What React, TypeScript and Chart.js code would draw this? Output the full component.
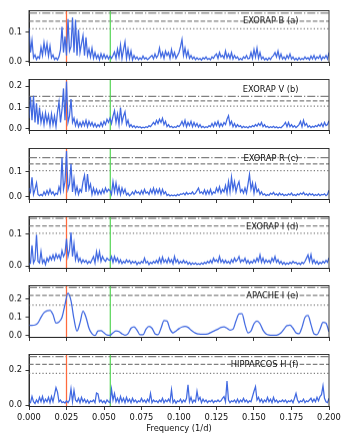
import React, { useEffect, useRef } from "react";
import { Chart, registerables } from "chart.js";
Chart.register(...registerables);

// ---------- DATA ----------
const freqMin = 0;
const freqMax = 0.2;
const freqTicks = [0, 0.025, 0.05, 0.075, 0.1, 0.125, 0.15, 0.175, 0.2];
const panelNames = ["EXORAP B (a)", "EXORAP V (b)", "EXORAP R (c)", "EXORAP I (d)", "APACHE I (e)", "HIPPARCOS H (f)"];
const markerFreqs = [0.025, 0.0542];

const powerB = [
  0.112, 0.03, 0.072, 0.012, 0.022, 0.006, 0.016, 0.01, 0.048, 0.02,
  0.064, 0.028, 0.06, 0.018, 0.052, 0.012, 0.022, 0.006, 0.012, 0.005,
  0.016, 0.04, 0.118, 0.03, 0.085, 0.02, 0.145, 0.035, 0.05, 0.15,
  0.03, 0.142, 0.02, 0.108, 0.03, 0.06, 0.088, 0.02, 0.082, 0.02,
  0.042, 0.015, 0.045, 0.01, 0.03, 0.01, 0.022, 0.005, 0.026, 0.01,
  0.024, 0.01, 0.02, 0.008, 0.018, 0.01, 0.02, 0.032, 0.01, 0.042,
  0.015, 0.056, 0.01, 0.04, 0.066, 0.01, 0.042, 0.01, 0.035, 0.005,
  0.02, 0.008, 0.015, 0.005, 0.012, 0.006, 0.018, 0.008, 0.012, 0.005,
  0.01, 0.015, 0.02, 0.008, 0.025, 0.012, 0.02, 0.045, 0.015, 0.03,
  0.01, 0.035, 0.02, 0.03, 0.01, 0.04, 0.015, 0.03, 0.01, 0.02,
  0.03, 0.05, 0.075, 0.02, 0.045, 0.015, 0.035, 0.01, 0.02, 0.008,
  0.015, 0.005, 0.012, 0.006, 0.01, 0.004, 0.012, 0.008, 0.015, 0.006,
  0.01, 0.005, 0.015, 0.01, 0.02, 0.025, 0.01, 0.03, 0.015, 0.02,
  0.01, 0.035, 0.012, 0.025, 0.01, 0.03, 0.008, 0.02, 0.01, 0.015,
  0.005, 0.01, 0.005, 0.015, 0.01, 0.02, 0.008, 0.01, 0.03, 0.01,
  0.04, 0.015, 0.045, 0.01, 0.03, 0.008, 0.015, 0.005, 0.01, 0.004,
  0.012, 0.006, 0.015, 0.02, 0.03, 0.015, 0.035, 0.01, 0.025, 0.008,
  0.015, 0.006, 0.02, 0.01, 0.025, 0.008, 0.015, 0.005, 0.01, 0.004,
  0.012, 0.005, 0.01, 0.006, 0.015, 0.008, 0.012, 0.005, 0.018, 0.008,
  0.02, 0.006, 0.015, 0.01, 0.02, 0.005, 0.015, 0.01, 0.02, 0.008, 0.03,
];

const powerV = [
  0.05, 0.15, 0.04, 0.155, 0.03, 0.12, 0.02, 0.1, 0.03, 0.07,
  0.02, 0.075, 0.03, 0.065, 0.015, 0.07, 0.02, 0.06, 0.01, 0.08,
  0.127, 0.03, 0.09, 0.19, 0.04, 0.222, 0.03, 0.06, 0.14, 0.03,
  0.05, 0.015, 0.04, 0.01, 0.03, 0.012, 0.035, 0.015, 0.04, 0.01,
  0.035, 0.015, 0.03, 0.01, 0.025, 0.008, 0.02, 0.01, 0.03, 0.012,
  0.035, 0.02, 0.045, 0.03, 0.05, 0.025, 0.06, 0.085, 0.03, 0.07,
  0.02, 0.1, 0.03, 0.06, 0.08, 0.02, 0.04, 0.01, 0.02, 0.008,
  0.015, 0.005, 0.012, 0.006, 0.01, 0.004, 0.008, 0.005, 0.01, 0.006,
  0.015, 0.01, 0.02, 0.03, 0.02, 0.04, 0.025, 0.045, 0.03, 0.05,
  0.02, 0.035, 0.01, 0.02, 0.008, 0.012, 0.005, 0.01, 0.006, 0.015,
  0.01, 0.02, 0.035, 0.015, 0.04, 0.01, 0.03, 0.015, 0.035, 0.01,
  0.03, 0.012, 0.025, 0.008, 0.02, 0.006, 0.012, 0.005, 0.01, 0.006,
  0.015, 0.01, 0.025, 0.01, 0.03, 0.015, 0.035, 0.01, 0.025, 0.012,
  0.03, 0.02, 0.045, 0.062, 0.02, 0.035, 0.01, 0.025, 0.008, 0.02,
  0.01, 0.015, 0.005, 0.012, 0.006, 0.01, 0.004, 0.012, 0.008, 0.015,
  0.01, 0.02, 0.012, 0.025, 0.015, 0.03, 0.01, 0.02, 0.008, 0.012,
  0.005, 0.01, 0.006, 0.012, 0.005, 0.01, 0.004, 0.008, 0.005, 0.012,
  0.02, 0.03, 0.01, 0.03, 0.01, 0.02, 0.008, 0.015, 0.006, 0.012,
  0.02, 0.035, 0.01, 0.04, 0.015, 0.025, 0.008, 0.015, 0.006, 0.012,
  0.008, 0.015, 0.01, 0.02, 0.012, 0.025, 0.01, 0.03, 0.015, 0.02, 0.038,
];

const powerR = [
  0.035, 0.02, 0.077, 0.01, 0.03, 0.055, 0.01, 0.005, 0.01, 0.005,
  0.02, 0.008, 0.025, 0.01, 0.03, 0.012, 0.02, 0.006, 0.015, 0.01,
  0.04, 0.02, 0.155, 0.03, 0.06, 0.18, 0.03, 0.05, 0.13, 0.02,
  0.07, 0.015, 0.04, 0.01, 0.03, 0.02, 0.06, 0.085, 0.02, 0.09,
  0.03, 0.05, 0.01, 0.035, 0.012, 0.03, 0.01, 0.025, 0.012, 0.03,
  0.015, 0.035, 0.02, 0.03, 0.025, 0.01, 0.06, 0.02, 0.055, 0.015,
  0.04, 0.01, 0.035, 0.015, 0.03, 0.008, 0.015, 0.005, 0.01, 0.02,
  0.01, 0.025, 0.015, 0.02, 0.01, 0.025, 0.012, 0.03, 0.015, 0.02,
  0.01, 0.03, 0.015, 0.035, 0.012, 0.03, 0.015, 0.032, 0.01, 0.03,
  0.012, 0.02, 0.006, 0.01, 0.004, 0.008, 0.005, 0.008, 0.004, 0.01,
  0.006, 0.012, 0.01, 0.015, 0.008, 0.018, 0.01, 0.015, 0.012, 0.02,
  0.01, 0.015, 0.025, 0.035, 0.015, 0.02, 0.012, 0.028, 0.01, 0.025,
  0.012, 0.03, 0.01, 0.02, 0.015, 0.035, 0.02, 0.04, 0.015, 0.03,
  0.02, 0.045, 0.015, 0.06, 0.02, 0.078, 0.03, 0.06, 0.02, 0.045,
  0.06, 0.02, 0.03, 0.015, 0.035, 0.015, 0.05, 0.088, 0.03, 0.055,
  0.015, 0.05, 0.02, 0.03, 0.01, 0.02, 0.008, 0.012, 0.005, 0.01,
  0.006, 0.015, 0.01, 0.018, 0.008, 0.012, 0.006, 0.015, 0.008, 0.012,
  0.005, 0.01, 0.006, 0.012, 0.008, 0.015, 0.006, 0.01, 0.005, 0.012,
  0.008, 0.015, 0.01, 0.018, 0.008, 0.012, 0.006, 0.014, 0.008, 0.012,
  0.005, 0.01, 0.006, 0.012, 0.005, 0.01, 0.008, 0.012, 0.005, 0.01, 0.026,
];

const powerI = [
  0.005, 0.01, 0.065, 0.01, 0.02, 0.098, 0.015, 0.01, 0.045, 0.01,
  0.02, 0.005, 0.025, 0.015, 0.03, 0.02, 0.035, 0.02, 0.038, 0.025,
  0.035, 0.02, 0.048, 0.03, 0.04, 0.085, 0.03, 0.05, 0.105, 0.03,
  0.07, 0.02, 0.04, 0.015, 0.025, 0.01, 0.02, 0.012, 0.018, 0.008,
  0.015, 0.01, 0.02, 0.03, 0.01, 0.045, 0.02, 0.045, 0.015, 0.03,
  0.02, 0.015, 0.025, 0.02, 0.018, 0.03, 0.012, 0.03, 0.015, 0.025,
  0.01, 0.02, 0.008, 0.015, 0.01, 0.02, 0.012, 0.018, 0.008, 0.015,
  0.01, 0.015, 0.005, 0.012, 0.008, 0.015, 0.01, 0.025, 0.01, 0.015,
  0.005, 0.012, 0.008, 0.015, 0.01, 0.018, 0.01, 0.025, 0.01, 0.028,
  0.012, 0.02, 0.01, 0.025, 0.012, 0.02, 0.008, 0.03, 0.012, 0.02,
  0.008, 0.015, 0.01, 0.018, 0.01, 0.015, 0.006, 0.012, 0.005, 0.01,
  0.006, 0.01, 0.005, 0.008, 0.005, 0.01, 0.006, 0.012, 0.008, 0.015,
  0.01, 0.018, 0.01, 0.025, 0.015, 0.02, 0.012, 0.03, 0.012, 0.02,
  0.01, 0.018, 0.01, 0.015, 0.008, 0.02, 0.012, 0.025, 0.015, 0.02,
  0.03, 0.012, 0.02, 0.015, 0.025, 0.01, 0.018, 0.008, 0.015, 0.01,
  0.02, 0.012, 0.025, 0.015, 0.035, 0.012, 0.025, 0.01, 0.02, 0.012,
  0.018, 0.01, 0.025, 0.015, 0.03, 0.012, 0.02, 0.008, 0.015, 0.006,
  0.012, 0.005, 0.01, 0.006, 0.012, 0.008, 0.015, 0.01, 0.012, 0.006,
  0.01, 0.005, 0.012, 0.008, 0.015, 0.025, 0.035, 0.015, 0.036, 0.01,
  0.02, 0.008, 0.015, 0.006, 0.012, 0.008, 0.015, 0.01, 0.018, 0.012, 0.026,
];

const powerApache = [
  0.057, 0.056, 0.058, 0.07, 0.1, 0.125, 0.135, 0.138, 0.115, 0.068,
  0.075, 0.1, 0.17, 0.232, 0.19, 0.09, 0.025, 0.07, 0.133, 0.1,
  0.04, 0.01, 0.0, 0.025, 0.027, 0.015, 0.003, 0.002, 0.015, 0.025,
  0.022, 0.01, 0.002, 0.01, 0.04, 0.048, 0.03, 0.005, 0.005, 0.035,
  0.05, 0.04, 0.01, 0.005, 0.04, 0.082, 0.08, 0.035, 0.015, 0.025,
  0.038, 0.047, 0.05, 0.045, 0.03, 0.018, 0.01, 0.008, 0.007, 0.008,
  0.012, 0.02, 0.028, 0.035, 0.045, 0.048, 0.04, 0.03, 0.035, 0.08,
  0.118, 0.12, 0.06, 0.015, 0.025, 0.065, 0.08, 0.065, 0.03, 0.01,
  0.003, 0.002, 0.002, 0.005, 0.015, 0.035, 0.055, 0.057, 0.04, 0.015,
  0.01, 0.045, 0.1, 0.11, 0.06, 0.01, 0.005, 0.035, 0.072, 0.068, 0.02,
];

const powerHip = [
  0.01, 0.015, 0.05, 0.02, 0.01, 0.03, 0.015, 0.045, 0.02, 0.05,
  0.015, 0.035, 0.02, 0.045, 0.015, 0.05, 0.02, 0.06, 0.1, 0.075,
  0.02, 0.03, 0.015, 0.02, 0.012, 0.025, 0.015, 0.03, 0.094, 0.02,
  0.085, 0.03, 0.02, 0.04, 0.015, 0.045, 0.02, 0.035, 0.015, 0.03,
  0.012, 0.025, 0.02, 0.03, 0.015, 0.07, 0.065, 0.02, 0.03, 0.015,
  0.025, 0.012, 0.03, 0.02, 0.015, 0.092, 0.03, 0.067, 0.02, 0.04,
  0.015, 0.05, 0.02, 0.04, 0.015, 0.045, 0.02, 0.035, 0.015, 0.04,
  0.02, 0.03, 0.015, 0.025, 0.02, 0.04, 0.02, 0.03, 0.015, 0.035,
  0.02, 0.067, 0.015, 0.03, 0.02, 0.025, 0.015, 0.03, 0.02, 0.04,
  0.015, 0.03, 0.02, 0.035, 0.02, 0.088, 0.015, 0.03, 0.012, 0.025,
  0.02, 0.035, 0.015, 0.03, 0.02, 0.04, 0.117, 0.02, 0.045, 0.015,
  0.03, 0.02, 0.08, 0.03, 0.045, 0.015, 0.035, 0.02, 0.03, 0.015,
  0.025, 0.02, 0.03, 0.015, 0.025, 0.02, 0.03, 0.02, 0.025, 0.04,
  0.05, 0.02, 0.138, 0.03, 0.015, 0.025, 0.02, 0.03, 0.015, 0.035,
  0.015, 0.03, 0.02, 0.04, 0.02, 0.03, 0.015, 0.025, 0.02, 0.05,
  0.08, 0.106, 0.03, 0.045, 0.02, 0.035, 0.015, 0.03, 0.02, 0.045,
  0.02, 0.035, 0.015, 0.045, 0.02, 0.03, 0.015, 0.025, 0.02, 0.03,
  0.02, 0.03, 0.015, 0.025, 0.02, 0.03, 0.015, 0.04, 0.067, 0.03,
  0.015, 0.025, 0.02, 0.035, 0.015, 0.025, 0.02, 0.03, 0.04, 0.02,
  0.035, 0.02, 0.045, 0.025, 0.05, 0.06, 0.11, 0.04, 0.02, 0.015, 0.04,
];

const yTicksPerPanel = [[0, 0.1], [0, 0.1, 0.2], [0, 0.1], [0, 0.1], [0, 0.1, 0.2], [0, 0.2]];
const yMinPerPanel = [-0.004, -0.008, -0.01, -0.007, -0.01, -0.007];
const yMaxPerPanel = [0.1735, 0.232, 0.19, 0.154, 0.273, 0.289];
const dottedLevels = [0.111, 0.107, 0.103, 0.102, 0.167, 0.182];
const dashedLevels = [0.137, 0.131, 0.13, 0.125, 0.22, 0.232];
const dashDotLevels = [0.165, 0.152, 0.154, 0.149, 0.262, 0.277];
const panelSeries = [powerB, powerV, powerR, powerI, powerApache, powerHip];

// ---------- LAYOUT ----------
const W = 349;
const H = 441;
const AX_LEFT = 29;
const AX_RIGHT = 329;
const PANEL_TOP0 = 6;
const PANEL_STEP = 68.8;
const PANEL_H = 56.5;
const PAD_TOP = 4;
const FONT = "'DejaVu Sans', sans-serif";
const FS = 8.3;

function Panel({ idx }: { idx: number }) {
  const ref = useRef<HTMLCanvasElement | null>(null);
  const isBottom = idx === 5;
  const top = PANEL_TOP0 + idx * PANEL_STEP;
  const divTop = top - PAD_TOP;
  const canvasH = isBottom ? H - divTop : PANEL_H + PAD_TOP + 8;
  const xAxisH = canvasH - PAD_TOP - PANEL_H;

  useEffect(() => {
    const series = panelSeries[idx];
    const step = (freqMax - freqMin) / (series.length - 1);
    const points = series.map((v, i) => ({ x: freqMin + i * step, y: v }));
    const smooth = idx === 4;

    const overlay = {
      id: "overlay" + idx,
      beforeDatasetsDraw(chart: any) {
        const { ctx, chartArea } = chart;
        const ys = chart.scales.y;
        const xs = chart.scales.x;
        ctx.save();
        ctx.beginPath();
        ctx.rect(chartArea.left, chartArea.top, chartArea.right - chartArea.left, chartArea.bottom - chartArea.top);
        ctx.clip();
        const levels: [number, number[]][] = [
          [dottedLevels[idx], [1.25, 2.1]],
          [dashedLevels[idx], [4.6, 2.0]],
          [dashDotLevels[idx], [8, 2, 1.25, 2]],
        ];
        ctx.strokeStyle = "#808080";
        ctx.lineWidth = 1.25;
        for (const [lv, dash] of levels) {
          const y = ys.getPixelForValue(lv);
          ctx.setLineDash(dash);
          ctx.beginPath();
          ctx.moveTo(chartArea.left, y);
          ctx.lineTo(chartArea.right, y);
          ctx.stroke();
        }
        ctx.setLineDash([]);
        const colors = ["#ff6a3d", "#5cd65c"];
        markerFreqs.forEach((f, k) => {
          const x = xs.getPixelForValue(f);
          ctx.strokeStyle = colors[k];
          ctx.lineWidth = 1.25;
          ctx.beginPath();
          ctx.moveTo(x, chartArea.top);
          ctx.lineTo(x, chartArea.bottom);
          ctx.stroke();
        });
        ctx.restore();
      },
      afterDatasetsDraw(chart: any) {
        const { ctx, chartArea } = chart;
        ctx.save();
        ctx.font = `${FS}px ${FONT}`;
        ctx.fillStyle = "#111";
        ctx.textAlign = "right";
        ctx.textBaseline = "middle";
        const xs = chart.scales.x;
        ctx.fillText(panelNames[idx], xs.getPixelForValue(0.18) - 0.5, chartArea.top + 10);
        ctx.restore();
      },
      afterDraw(chart: any) {
        const { ctx, chartArea } = chart;
        ctx.save();
        ctx.strokeStyle = "#222";
        ctx.lineWidth = 0.9;
        ctx.strokeRect(chartArea.left, chartArea.top, chartArea.right - chartArea.left, chartArea.bottom - chartArea.top);
        ctx.restore();
      },
    };

    const gridOpts = {
      display: true,
      drawOnChartArea: false,
      drawTicks: true,
      tickLength: 3.5,
      color: "#222",
      lineWidth: 0.9,
    };

    const chart = new Chart(ref.current as HTMLCanvasElement, {
      type: "line",
      data: {
        datasets: [
          {
            data: points,
            borderColor: "#4169e1",
            borderWidth: 1.25,
            pointRadius: 0,
            fill: false,
            tension: smooth ? 0.4 : 0,
            cubicInterpolationMode: smooth ? "monotone" : "default",
          } as any,
        ],
      },
      options: {
        animation: false,
        responsive: false,
        devicePixelRatio: 1,
        events: [],
        layout: { padding: { top: PAD_TOP, right: W - AX_RIGHT, left: 0, bottom: 0 } },
        plugins: { legend: { display: false }, tooltip: { enabled: false }, title: { display: false } },
        scales: {
          x: {
            type: "linear",
            min: freqMin,
            max: freqMax,
            afterBuildTicks: (s: any) => {
              s.ticks = freqTicks.map((v) => ({ value: v }));
            },
            afterFit: (s: any) => {
              s.height = xAxisH;
            },
            ticks: {
              display: isBottom,
              autoSkip: false,
              maxRotation: 0,
              padding: 2.5,
              color: "#111",
              font: { family: FONT, size: FS },
              callback: (v: any) => Number(v).toFixed(3),
            },
            grid: gridOpts,
            border: { display: true, color: "#222", width: 0.9 },
            title: {
              display: isBottom,
              text: "Frequency (1/d)",
              color: "#111",
              font: { family: FONT, size: FS },
              padding: { top: 0, bottom: 7 },
            },
          },
          y: {
            type: "linear",
            min: yMinPerPanel[idx],
            max: yMaxPerPanel[idx],
            afterBuildTicks: (s: any) => {
              s.ticks = yTicksPerPanel[idx].map((v) => ({ value: v }));
            },
            afterFit: (s: any) => {
              s.width = AX_LEFT;
            },
            ticks: {
              padding: 3.5,
              color: "#111",
              font: { family: FONT, size: FS },
              callback: (v: any) => Number(v).toFixed(1),
            },
            grid: gridOpts,
            border: { display: true, color: "#222", width: 0.9 },
          },
        },
      },
      plugins: [overlay],
    });
    return () => chart.destroy();
  }, [idx]);

  return (
    <div style={{ position: "absolute", left: 0, top: divTop, width: W, height: canvasH }}>
      <canvas ref={ref} width={W} height={canvasH} style={{ display: "block", width: W, height: canvasH }} />
    </div>
  );
}

export default function App() {
  return (
    <div style={{ position: "fixed", left: 0, top: 0, width: W, height: H, background: "#fff", overflow: "hidden" }}>
      {panelNames.map((_, i) => (
        <Panel key={i} idx={i} />
      ))}
    </div>
  );
}
